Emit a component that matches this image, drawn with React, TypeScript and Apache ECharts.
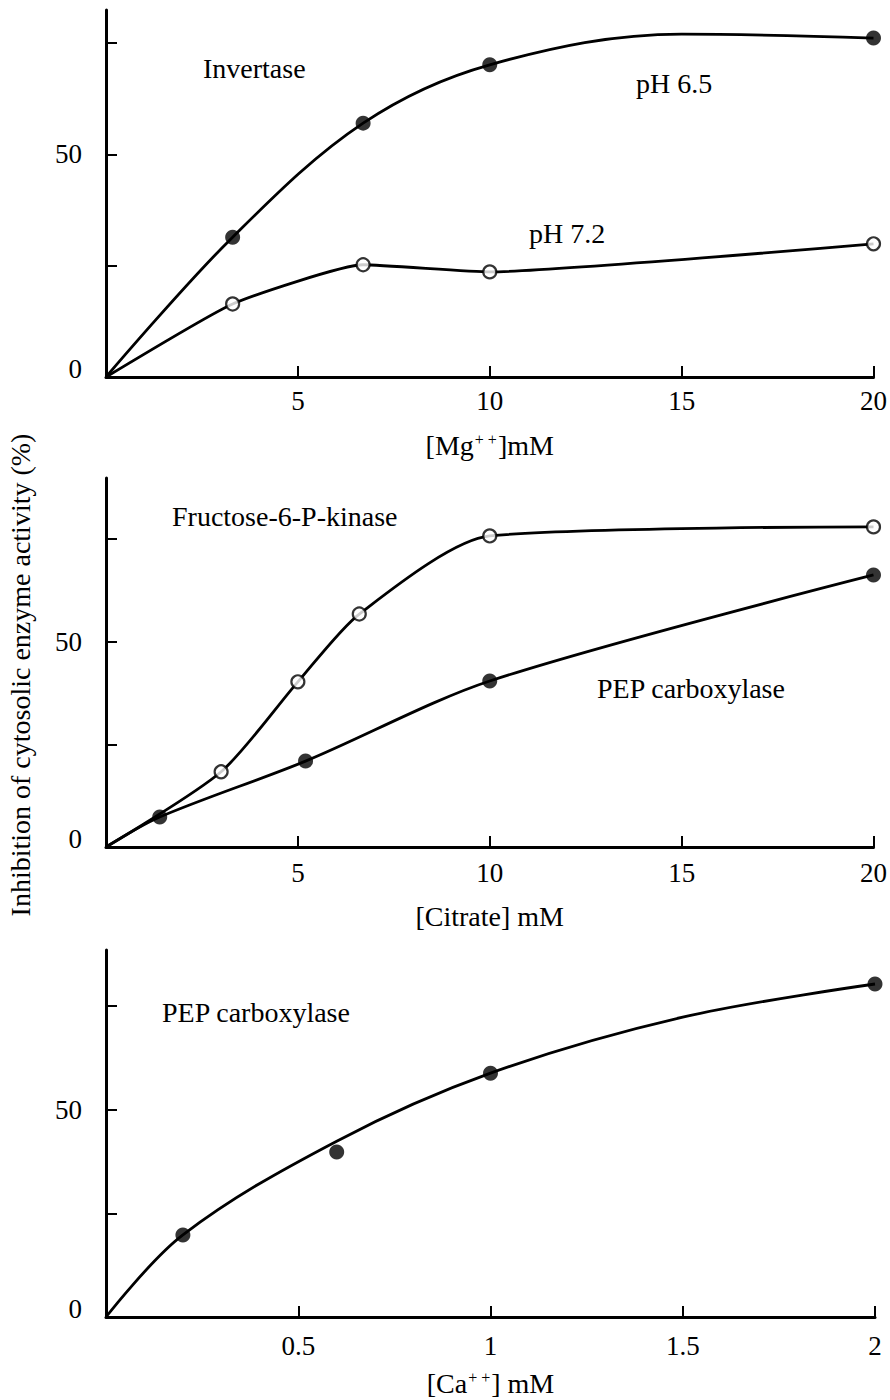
import React, { useEffect, useRef } from "react";
import * as echarts from "echarts";

const FONT = "'Liberation Serif', 'Times New Roman', serif";
const FS_TICK = 27;
const FS_TEXT = 28;

// ---- tick values / labels ----
const concTicks = [5, 10, 15, 20];
const caTicks = [0.5, 1, 1.5, 2];
const pctTicks = [25, 50, 75];
const pctLabels = [0, 50];
const yMaxes = [82.4, 89.8, 88.5];

// ---- Panel A: Invertase vs [Mg++] ----
const ph65Points = [[3.3, 31.4], [6.7, 57.0], [10, 70.1], [20, 76.1]];
const ph65Curve = [[0, 0], [3.3, 31.4], [6.7, 57.0], [10, 70.1], [15, 77.0], [20, 76.1]];
const ph72Points = [[3.3, 16.4], [6.7, 25.2], [10, 23.6], [20, 29.9]];
const ph72Curve = [[0, 0], [3.3, 16.4], [6.7, 25.2], [10, 23.6], [20, 29.9]];

// ---- Panel B: Fructose-6-P-kinase & PEP carboxylase vs [Citrate] ----
const f6pkPoints = [[3, 18.3], [5, 40.2], [6.6, 56.7], [10, 75.7], [20, 77.9]];
const f6pkCurve = [[0, 0], [3, 18.3], [5, 40.2], [6.6, 56.7], [10, 75.7], [20, 77.9]];
const pepCitPoints = [[1.4, 7.3], [5.2, 20.9], [10, 40.4], [20, 66.2]];
const pepCitCurve = [[0, 0], [1.4, 7.3], [5.2, 20.9], [10, 40.4], [20, 66.2]];

// ---- Panel C: PEP carboxylase vs [Ca++] ----
const pepCaPoints = [[0.2, 19.8], [0.6, 39.8], [1, 58.8], [2, 80.3]];
const pepCaCurve = [[0, 0], [0.2, 19.8], [0.6, 42.4], [1, 58.8], [1.5, 72.3], [2, 80.3]];

const xNames = ["[Mg{s|+ +}]mM", "[Citrate] mM", "[Ca{s|+ +}] mM"];
const xMaxes = [20, 20, 2];
const xTickSets = [concTicks, concTicks, caTicks];

const tickText = { fontFamily: FONT, fontSize: FS_TICK, color: "#000" };

function makeOption() {
  const grids = [
    { left: 106, top: 10, width: 769, height: 367 },
    { left: 106, top: 478, width: 769, height: 369 },
    { left: 106, top: 950, width: 769, height: 367 },
  ];
  const labelMargins = [10, 12, 15];
  const nameGaps = [54, 55, 52];

  const xAxis = grids.map((_, i) => ({
    type: "value",
    gridIndex: i,
    min: 0,
    max: xMaxes[i],
    axisLine: { show: true, onZero: false, lineStyle: { color: "#000", width: 3 } },
    axisTick: {
      show: true,
      inside: true,
      length: 11,
      customValues: xTickSets[i],
      lineStyle: { color: "#000", width: 2 },
    },
    axisLabel: {
      show: true,
      customValues: xTickSets[i],
      margin: labelMargins[i],
      ...tickText,
      formatter: (v: number) => String(v),
    },
    splitLine: { show: false },
    name: xNames[i],
    nameLocation: "middle",
    nameGap: nameGaps[i],
    nameTextStyle: {
      fontFamily: FONT,
      fontSize: FS_TEXT,
      color: "#000",
      rich: {
        s: { fontFamily: FONT, fontSize: 16, color: "#000", verticalAlign: "top", padding: [0, 1, 0, 1] },
      },
    },
  }));

  const yAxis = grids.map((_, i) => ({
    type: "value",
    gridIndex: i,
    min: 0,
    max: yMaxes[i],
    axisLine: { show: true, onZero: false, lineStyle: { color: "#000", width: 3 } },
    axisTick: {
      show: true,
      inside: true,
      length: 11,
      customValues: pctTicks,
      lineStyle: { color: "#000", width: 2 },
    },
    axisLabel: {
      show: true,
      customValues: pctLabels,
      margin: 24,
      ...tickText,
      formatter: (v: number) => (v === 0 ? "{z|0}" : String(v)),
      rich: {
        z: { fontFamily: FONT, fontSize: FS_TICK, color: "#000", padding: [0, 0, 16, 0] },
      },
    },
    splitLine: { show: false },
  }));

  const curve = (data: number[][], i: number, smooth: number) => ({
    type: "line",
    xAxisIndex: i,
    yAxisIndex: i,
    data,
    showSymbol: false,
    symbol: "none",
    smooth,
    lineStyle: { color: "#000", width: 2.8 },
    silent: true,
    z: 2,
  });
  const filled = (data: number[][], i: number) => ({
    type: "scatter",
    xAxisIndex: i,
    yAxisIndex: i,
    data,
    symbol: "circle",
    symbolSize: 15,
    itemStyle: { color: "#000" },
    z: 3,
  });
  const open = (data: number[][], i: number) => ({
    type: "scatter",
    xAxisIndex: i,
    yAxisIndex: i,
    data,
    symbol: "circle",
    symbolSize: 13,
    itemStyle: { color: "#fff", borderColor: "#000", borderWidth: 2.2 },
    z: 3,
  });

  const series = [
    curve(ph65Curve, 0, 0.35),
    filled(ph65Points, 0),
    curve(ph72Curve, 0, 0.15),
    open(ph72Points, 0),
    curve(f6pkCurve, 1, 0.25),
    open(f6pkPoints, 1),
    curve(pepCitCurve, 1, 0.3),
    filled(pepCitPoints, 1),
    curve(pepCaCurve, 2, 0.35),
    filled(pepCaPoints, 2),
  ];

  const txt = (text: string, x: number, y: number) => ({
    type: "text",
    x,
    y,
    style: {
      text,
      fontFamily: FONT,
      fontSize: FS_TEXT,
      fill: "#000",
      align: "left",
      verticalAlign: "middle",
    },
  });

  const graphic = [
    txt("Invertase", 203, 68),
    txt("pH 6.5", 636, 83),
    txt("pH 7.2", 529, 233),
    txt("Fructose-6-P-kinase", 172, 516),
    txt("PEP carboxylase", 597, 688),
    txt("PEP carboxylase", 162, 1012),
    {
      type: "text",
      x: 20,
      y: 675,
      rotation: Math.PI / 2,
      style: {
        text: "Inhibition of cytosolic enzyme activity (%)",
        fontFamily: FONT,
        fontSize: FS_TEXT,
        fill: "#000",
        align: "center",
        verticalAlign: "middle",
      },
    },
  ];

  return {
    animation: false,
    backgroundColor: "#fff",
    grid: grids,
    xAxis,
    yAxis,
    series,
    graphic,
  };
}

export default function App() {
  const ref = useRef<HTMLDivElement>(null);
  useEffect(() => {
    if (!ref.current) return;
    const chart = echarts.init(ref.current, undefined, { renderer: "svg" });
    chart.setOption(makeOption() as any);
    return () => chart.dispose();
  }, []);
  return (
    <div
      ref={ref}
      style={{ position: "absolute", left: 0, top: 0, width: 890, height: 1400, background: "#fff" }}
    />
  );
}
